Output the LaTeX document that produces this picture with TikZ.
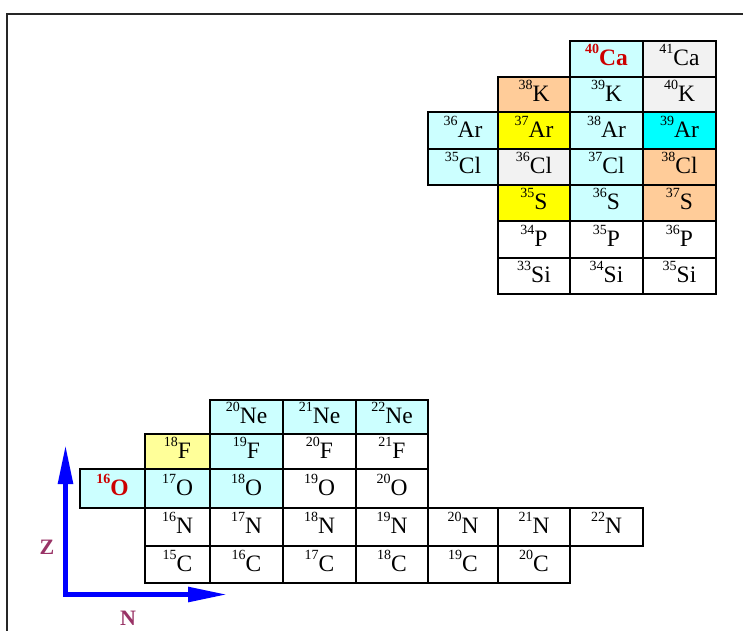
\documentclass[tikz,border=0pt]{standalone}
\usepackage{fontspec}
\setmainfont{Liberation Serif}
\usetikzlibrary{arrows.meta}
\definecolor{lcyan}{HTML}{CCFFFF}
\definecolor{peach}{HTML}{FFCC99}
\definecolor{yel}{HTML}{FFFF00}
\definecolor{lgray}{HTML}{F2F2F2}
\definecolor{cyanfull}{HTML}{00FFFF}
\definecolor{pyel}{HTML}{FFFF99}
\definecolor{isored}{HTML}{CC0000}
\definecolor{axlab}{HTML}{993366}
\definecolor{axblue}{HTML}{0000FF}
\newcommand\isolab[2]{\raisebox{12pt}{\fontsize{14}{14}\selectfont #1}#2}
\newcommand\isobold[2]{\textcolor{isored}{\bfseries\raisebox{12pt}{\fontsize{14}{14}\selectfont\bfseries #1}#2}}
\newcommand\isocell[7]{\node[cellbox,fill=#6,minimum width={(#4)-(#2)},minimum height={(#5)-(#3)}] (#1) at ({((#2)+(#4))/2},{((#3)+(#5))/2}) {#7};}
\tikzset{
  cellbox/.style={draw=black,line width=2pt,rectangle,inner sep=0pt,outer sep=0pt,
    text height=17pt,text depth=4pt,font=\fontsize{23.5}{23.5}\selectfont,align=center},
  axisline/.style={draw=axblue,line width=5.5pt,line join=miter,
    {Triangle[length=40pt,width=14pt]}-{Triangle[length=40pt,width=14pt]}},
  axislabel/.style={text=axlab,font=\fontsize{22}{22}\selectfont\bfseries,inner sep=0pt},
  frameline/.style={draw=black!85,line width=1.6pt}
}
\begin{document}
\begin{tikzpicture}[x=1pt,y=-1pt]
\useasboundingbox (0,0) rectangle (743,630);
\fill[white] (0,0) rectangle (743,630);
% frame
\coordinate (fbl) at (7,631);
\coordinate (ftl) at (7,14);
\coordinate (ftr) at (744,14);
\draw[frameline] (fbl) -- (ftl) -- (ftr);
% upper grid: columns 428,498,570,643,716 ; rows 41,77,112,149,185,221,258,294
\isocell{ca40}{570}{41}{643}{77}{lcyan}{\isobold{40}{Ca}}
\isocell{ca41}{643}{41}{716}{77}{lgray}{\isolab{41}{Ca}}
\isocell{k38}{498}{77}{570}{112}{peach}{\isolab{38}{K}}
\isocell{k39}{570}{77}{643}{112}{lcyan}{\isolab{39}{K}}
\isocell{k40}{643}{77}{716}{112}{lgray}{\isolab{40}{K}}
\isocell{ar36}{428}{112}{498}{149}{lcyan}{\isolab{36}{Ar}}
\isocell{ar37}{498}{112}{570}{149}{yel}{\isolab{37}{Ar}}
\isocell{ar38}{570}{112}{643}{149}{lcyan}{\isolab{38}{Ar}}
\isocell{ar39}{643}{112}{716}{149}{cyanfull}{\isolab{39}{Ar}}
\isocell{cl35}{428}{149}{498}{185}{lcyan}{\isolab{35}{Cl}}
\isocell{cl36}{498}{149}{570}{185}{lgray}{\isolab{36}{Cl}}
\isocell{cl37}{570}{149}{643}{185}{lcyan}{\isolab{37}{Cl}}
\isocell{cl38}{643}{149}{716}{185}{peach}{\isolab{38}{Cl}}
\isocell{s35}{498}{185}{570}{221}{yel}{\isolab{35}{S}}
\isocell{s36}{570}{185}{643}{221}{lcyan}{\isolab{36}{S}}
\isocell{s37}{643}{185}{716}{221}{peach}{\isolab{37}{S}}
\isocell{p34}{498}{221}{570}{258}{white}{\isolab{34}{P}}
\isocell{p35}{570}{221}{643}{258}{white}{\isolab{35}{P}}
\isocell{p36}{643}{221}{716}{258}{white}{\isolab{36}{P}}
\isocell{si33}{498}{258}{570}{294}{white}{\isolab{33}{Si}}
\isocell{si34}{570}{258}{643}{294}{white}{\isolab{34}{Si}}
\isocell{si35}{643}{258}{716}{294}{white}{\isolab{35}{Si}}
% lower grid: columns 80,145,210,283,356,428,498,570,643 ; rows 400,434,469,508,546,583
\isocell{ne20}{210}{400}{283}{434}{lcyan}{\isolab{20}{Ne}}
\isocell{ne21}{283}{400}{356}{434}{lcyan}{\isolab{21}{Ne}}
\isocell{ne22}{356}{400}{428}{434}{lcyan}{\isolab{22}{Ne}}
\isocell{f18}{145}{434}{210}{469}{pyel}{\isolab{18}{F}}
\isocell{f19}{210}{434}{283}{469}{lcyan}{\isolab{19}{F}}
\isocell{f20}{283}{434}{356}{469}{white}{\isolab{20}{F}}
\isocell{f21}{356}{434}{428}{469}{white}{\isolab{21}{F}}
\isocell{o16}{80}{469}{145}{508}{lcyan}{\isobold{16}{O}}
\isocell{o17}{145}{469}{210}{508}{lcyan}{\isolab{17}{O}}
\isocell{o18}{210}{469}{283}{508}{lcyan}{\isolab{18}{O}}
\isocell{o19}{283}{469}{356}{508}{white}{\isolab{19}{O}}
\isocell{o20}{356}{469}{428}{508}{white}{\isolab{20}{O}}
\isocell{n16}{145}{508}{210}{546}{white}{\isolab{16}{N}}
\isocell{n17}{210}{508}{283}{546}{white}{\isolab{17}{N}}
\isocell{n18}{283}{508}{356}{546}{white}{\isolab{18}{N}}
\isocell{n19}{356}{508}{428}{546}{white}{\isolab{19}{N}}
\isocell{n20}{428}{508}{498}{546}{white}{\isolab{20}{N}}
\isocell{n21}{498}{508}{570}{546}{white}{\isolab{21}{N}}
\isocell{n22}{570}{508}{643}{546}{white}{\isolab{22}{N}}
\isocell{c15}{145}{546}{210}{583}{white}{\isolab{15}{C}}
\isocell{c16}{210}{546}{283}{583}{white}{\isolab{16}{C}}
\isocell{c17}{283}{546}{356}{583}{white}{\isolab{17}{C}}
\isocell{c18}{356}{546}{428}{583}{white}{\isolab{18}{C}}
\isocell{c19}{428}{546}{498}{583}{white}{\isolab{19}{C}}
\isocell{c20}{498}{546}{570}{583}{white}{\isolab{20}{C}}
% axes
\coordinate (ztip) at (65.5,444);
\coordinate (corner) at (65.5,594.5);
\coordinate (ntip) at (228,594.5);
\draw[axisline] (ztip) -- (corner) -- (ntip);
\node[axislabel] (zlab) at (47,547) {Z};
\node[axislabel] (nlab) at (128,618.5) {N};
\end{tikzpicture}
\end{document}
